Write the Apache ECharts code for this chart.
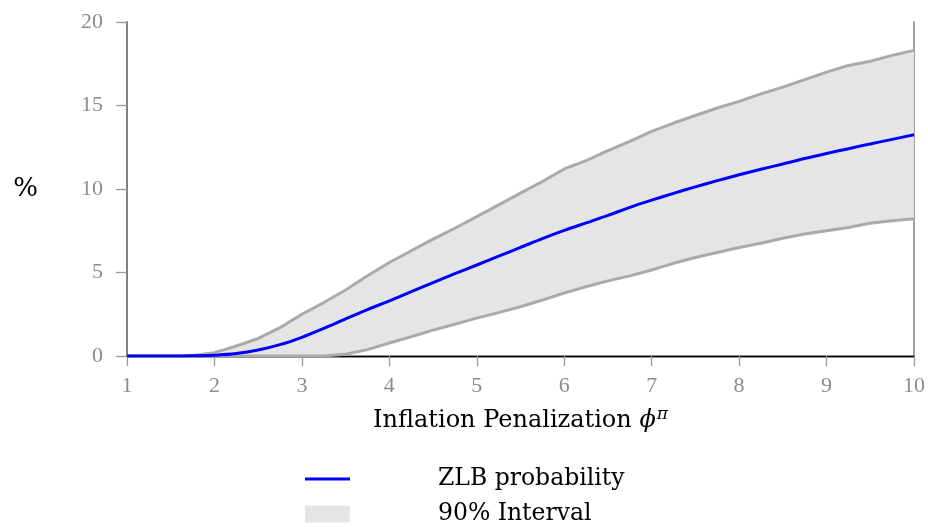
<!DOCTYPE html>
<html>
<head>
<meta charset="utf-8">
<script src="https://cdn.jsdelivr.net/npm/echarts@6/dist/echarts.min.js"></script>
<style>html,body{margin:0;padding:0;background:#fff}#c{width:928px;height:527px}</style>
</head>
<body>
<div id="c"></div>
<script>
const phi = [1,1.25,1.5,1.75,2,2.25,2.5,2.75,3,3.25,3.5,3.75,4,4.25,4.5,4.75,5,5.25,5.5,5.75,6,6.25,6.5,6.75,7,7.25,7.5,7.75,8,8.25,8.5,8.75,9,9.25,9.5,9.75,10];
const zlbMean = [0,0,0,0.01,0.05,0.15,0.36,0.68,1.12,1.65,2.22,2.78,3.3,3.85,4.4,4.93,5.45,5.98,6.5,7.03,7.52,7.97,8.42,8.9,9.33,9.74,10.13,10.5,10.85,11.18,11.5,11.83,12.13,12.41,12.7,12.97,13.25];
const upperBound = [0,0,0,0.03,0.2,0.6,1.05,1.7,2.5,3.2,3.95,4.8,5.6,6.3,7.0,7.65,8.35,9.05,9.75,10.45,11.2,11.7,12.3,12.85,13.45,13.95,14.4,14.85,15.25,15.7,16.1,16.55,17.0,17.4,17.65,18.0,18.3];
const lowerBound = [0,0,0,0,0,0,0,0,0,0,0.1,0.38,0.78,1.15,1.55,1.9,2.27,2.6,2.95,3.35,3.77,4.15,4.5,4.8,5.15,5.55,5.9,6.2,6.5,6.75,7.05,7.3,7.5,7.7,7.95,8.1,8.22];
const yTicks = [0,5,10,15,20];
const xTicks = [1,2,3,4,5,6,7,8,9,10];

const cats = phi.map(String);
const bandWidth = upperBound.map((u,i)=>+(u-lowerBound[i]).toFixed(4));
const isTick = (idx) => xTicks.includes(phi[idx]);

const serif = 'Liberation Serif';
const tickColor = '#8c8c8c';
const legendText = {fontFamily:'DejaVu Serif',fontSize:23.5,color:'#000',padding:[0,0,0,83]};
const chart = echarts.init(document.getElementById('c'));
chart.setOption({
  animation:false,
  grid:{left:127,right:14,top:22,bottom:171},
  legend:[{
    left:305, top:467, padding:0, itemWidth:45, itemHeight:3,
    textStyle:legendText,
    data:[{name:'ZLB probability',icon:'rect',itemStyle:{color:'#0000ff'}}]
  },{
    left:305, top:502, padding:0, itemWidth:45, itemHeight:17,
    textStyle:legendText,
    data:[{name:'90% Interval',icon:'rect',itemStyle:{color:'#e5e5e5'}}]
  }],
  xAxis:[{
    type:'category',data:cats,boundaryGap:false,position:'bottom',
    axisLine:{show:true,lineStyle:{color:'#000',width:1.3}},
    axisTick:{show:true,length:10,interval:isTick,lineStyle:{color:'#999',width:1.3}},
    axisLabel:{color:tickColor,fontFamily:serif,fontSize:22,margin:19,interval:isTick},
    splitLine:{show:false},
    name:'Inflation Penalization {i|ϕ}{s|π}',nameLocation:'middle',nameGap:50,
    nameTextStyle:{fontFamily:'DejaVu Serif',fontSize:24,color:'#000',
      rich:{i:{fontFamily:'DejaVu Serif',fontStyle:'italic',fontSize:24,color:'#000'},
            s:{fontFamily:'DejaVu Serif',fontStyle:'italic',fontSize:17,color:'#000',verticalAlign:'bottom',padding:[0,0,13,1]}}}
  },{
    type:'category',data:cats,boundaryGap:false,position:'top',
    axisLine:{show:true,lineStyle:{color:'#000',width:1.3}},
    axisTick:{show:false},axisLabel:{show:false},splitLine:{show:false}
  }],
  yAxis:[{
    type:'value',min:0,max:20,interval:5,position:'left',
    axisLine:{show:true,lineStyle:{color:'#808080',width:2}},
    axisTick:{show:true,length:11,lineStyle:{color:'#999',width:1.3}},
    axisLabel:{color:tickColor,fontFamily:serif,fontSize:22,margin:24,
      formatter:v=>yTicks.includes(v)?String(v):''},
    splitLine:{show:false},
    name:'%',nameLocation:'middle',nameRotate:0,nameGap:89,
    nameTextStyle:{fontFamily:'DejaVu Serif',fontSize:26,color:'#000'}
  },{
    type:'value',min:0,max:20,position:'right',
    axisLine:{show:true,lineStyle:{color:'#808080',width:1.5}},
    axisTick:{show:false},axisLabel:{show:false},splitLine:{show:false}
  }],
  series:[
    {type:'line',data:lowerBound,stack:'band',symbol:'none',silent:true,
      lineStyle:{opacity:0,width:0},areaStyle:{opacity:0},z:1},
    {name:'90% Interval',type:'line',data:bandWidth,stack:'band',symbol:'none',silent:true,
      itemStyle:{color:'#e5e5e5'},lineStyle:{opacity:0,width:0},areaStyle:{color:'#e5e5e5',opacity:1},z:1},
    {type:'line',data:upperBound,symbol:'none',lineStyle:{color:'#aaaaaa',width:3},z:2},
    {type:'line',data:lowerBound,symbol:'none',lineStyle:{color:'#aaaaaa',width:3},z:2},
    {name:'ZLB probability',type:'line',data:zlbMean,symbol:'none',smooth:0.3,
      itemStyle:{color:'#0000ff'},lineStyle:{color:'#0000ff',width:3},z:3}
  ]
});
</script>
</body>
</html>
